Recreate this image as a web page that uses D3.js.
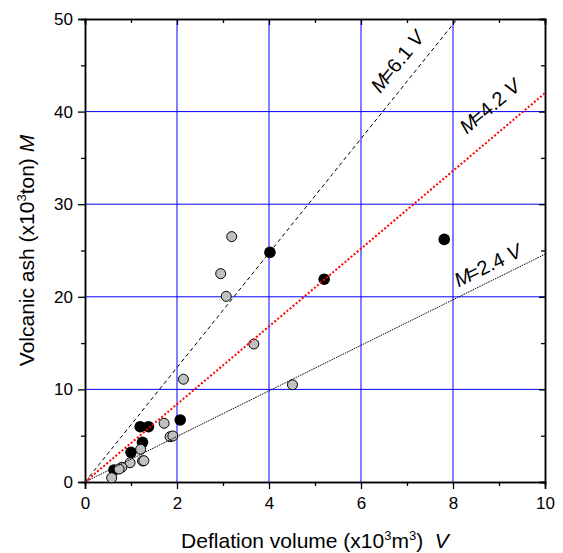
<!DOCTYPE html>
<html><head><meta charset="utf-8">
<script src="https://cdn.jsdelivr.net/npm/d3@7"></script>
<style>body{margin:0;background:#fff}svg{display:block}text{font-family:Arial,"Liberation Sans",sans-serif}</style>
</head><body>
<svg id="c" width="563" height="553"></svg>
<script>
// Data (x: deflation volume V, y: volcanic ash M)
const grayV = [3.19, 2.95, 3.07, 3.67, 4.51, 2.14, 1.72, 1.85, 1.91, 1.21, 1.25, 1.28, 0.98, 0.80, 0.74, 0.58];
const grayM = [26.5, 22.5, 20.05, 14.9, 10.5, 11.1, 6.34, 4.89, 4.97, 3.53, 2.27, 2.3, 2.08, 1.59, 1.4, 0.46];
const blackV = [4.02, 5.2, 7.81, 2.07, 1.2, 1.38, 1.25, 1.0, 0.63];
const blackM = [24.8, 21.9, 26.2, 6.7, 5.97, 5.97, 4.29, 3.21, 1.3];
const lineSlopes = [6.18, 4.2, 2.46];
const lineLabels = ["6.1", "4.2", "2.4"];
const labelV = [6.42, 8.3, 8.12];
const labelM = [41.9, 37.5, 21.0];
const xTicks = [0, 2, 4, 6, 8, 10];
const yTicks = [0, 10, 20, 30, 40, 50];
const xMinor = [1, 3, 5, 7, 9];
const yMinor = [5, 15, 25, 35, 45];

const svg = d3.select("#c");
const L = 85, R = 545, T = 19, B = 482;
const x = d3.scaleLinear().domain([0, 10]).range([L, R]);
const y = d3.scaleLinear().domain([0, 50]).range([B, T]);

// grid
const g = svg.append("g");
g.selectAll(".gx").data(xTicks.slice(1, -1)).join("line")
  .attr("x1", d => x(d)).attr("x2", d => x(d)).attr("y1", T).attr("y2", B)
  .attr("stroke", "#0000ff").attr("stroke-width", 1);
g.selectAll(".gy").data(yTicks.slice(1, -1)).join("line")
  .attr("y1", d => y(d)).attr("y2", d => y(d)).attr("x1", L).attr("x2", R)
  .attr("stroke", "#0000ff").attr("stroke-width", 1);

// axes
const ax = d3.axisBottom(x).tickValues(xTicks).tickSize(7).tickPadding(8).tickFormat(d3.format("d"));
const ay = d3.axisLeft(y).tickValues(yTicks).tickSize(7).tickPadding(5).tickFormat(d3.format("d"));
function style(sel){
  sel.select(".domain").attr("stroke","#000").attr("stroke-width",1.5);
  sel.selectAll(".tick line").attr("stroke","#000").attr("stroke-width",1.3);
  sel.selectAll(".tick text").attr("font-size",17).attr("fill","#000").style("font-family","Arial, 'Liberation Sans', sans-serif");
}
svg.append("g").attr("transform",`translate(0,${B})`).call(ax).call(style);
svg.append("g").attr("transform",`translate(${L},0)`).call(ay).call(style);
svg.append("g").attr("transform",`translate(0,${B})`).call(d3.axisBottom(x).tickValues(xMinor).tickSize(4).tickFormat("")).call(style);
svg.append("g").attr("transform",`translate(${L},0)`).call(d3.axisLeft(y).tickValues(yMinor).tickSize(4).tickFormat("")).call(style);
// top/right inward
svg.append("g").attr("transform",`translate(0,${T})`).call(d3.axisBottom(x).tickValues(xTicks).tickSize(6).tickFormat("")).call(style);
svg.append("g").attr("transform",`translate(0,${T})`).call(d3.axisBottom(x).tickValues(xMinor).tickSize(4).tickFormat("")).call(style);
svg.append("g").attr("transform",`translate(${R},0)`).call(d3.axisLeft(y).tickValues(yTicks).tickSize(6).tickFormat("")).call(style);
svg.append("g").attr("transform",`translate(${R},0)`).call(d3.axisLeft(y).tickValues(yMinor).tickSize(4).tickFormat("")).call(style);

// points
svg.append("g").selectAll("circle").data(blackV.map((v,i)=>[v,blackM[i]])).join("circle")
  .attr("cx", d => x(d[0])).attr("cy", d => y(d[1])).attr("r", 5.8).attr("fill", "#000");
svg.append("g").selectAll("circle").data(grayV.map((v,i)=>[v,grayM[i]])).join("circle")
  .attr("cx", d => x(d[0])).attr("cy", d => y(d[1])).attr("r", 5).attr("fill", "#c0c0c0").attr("stroke","#000").attr("stroke-width",1);

// fit lines
svg.append("clipPath").attr("id","clip").append("rect").attr("x",L).attr("y",T).attr("width",R-L).attr("height",B-T);
const lineStyles = [
  {stroke:"#000", w:1, dash:"4,3"},
  {stroke:"#ff0000", w:2, dash:"2,2"},
  {stroke:"#000", w:1, dash:"1.5,1"}
];
lineSlopes.forEach((s,i)=>{
  const xEnd = Math.min(10, 50/s);
  svg.append("line").attr("clip-path","url(#clip)")
    .attr("x1", x(0)).attr("y1", y(0)).attr("x2", x(xEnd)).attr("y2", y(s*xEnd))
    .attr("stroke", lineStyles[i].stroke).attr("stroke-width", lineStyles[i].w)
    .attr("stroke-dasharray", lineStyles[i].dash);
  const ang = Math.atan2(y(0)-y(s), x(1)-x(0))*180/Math.PI;
  const t = svg.append("text").attr("font-size",20)
    .attr("transform",`translate(${x(labelV[i])},${y(labelM[i])}) rotate(${-ang})`);
  t.append("tspan").attr("font-style","italic").text("M");
  t.append("tspan").attr("dx",-3).text("=" + lineLabels[i] + " ");
  t.append("tspan").attr("font-style","italic").text("V");
});

// axis titles
const xt = svg.append("text").attr("x", (L+R)/2).attr("y", 548).attr("text-anchor","middle").attr("font-size",21);
xt.append("tspan").text("Deflation volume (x10");
xt.append("tspan").attr("font-size",13).attr("dy",-8).text("3");
xt.append("tspan").attr("dy",8).text("m");
xt.append("tspan").attr("font-size",13).attr("dy",-8).text("3");
xt.append("tspan").attr("dy",8).text(")\u00a0\u00a0");
xt.append("tspan").attr("font-style","italic").text("V");

const yt = svg.append("text").attr("transform",`translate(34,${(T+B)/2}) rotate(-90)`).attr("text-anchor","middle").attr("font-size",21);
yt.append("tspan").text("Volcanic ash (x10");
yt.append("tspan").attr("font-size",13).attr("dy",-8).text("3");
yt.append("tspan").attr("dy",8).text("ton)\u00a0");
yt.append("tspan").attr("font-style","italic").text("M");
</script>
</body></html>
